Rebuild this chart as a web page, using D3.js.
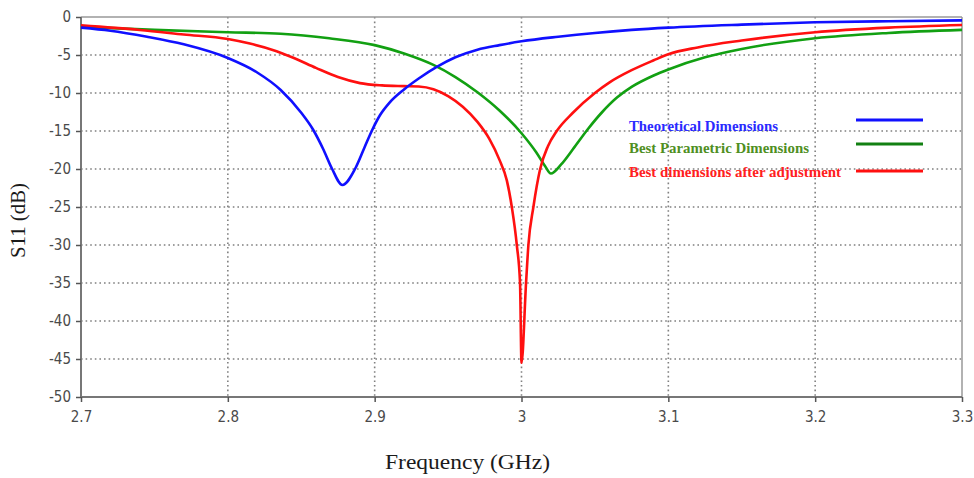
<!DOCTYPE html>
<html>
<head>
<meta charset="utf-8">
<script src="https://cdn.jsdelivr.net/npm/d3@7"></script>
<style>
  html, body { margin: 0; padding: 0; background: #fff; }
  svg { display: block; }
</style>
</head>
<body>
<svg id="chart" width="974" height="478"></svg>
<script>
// ---- Data ----
const xTicks = [2.7, 2.8, 2.9, 3.0, 3.1, 3.2, 3.3];
const xTickLabels = ["2.7", "2.8", "2.9", "3", "3.1", "3.2", "3.3"];
const yTicks = [0, -5, -10, -15, -20, -25, -30, -35, -40, -45, -50];

const seriesNames = ["Theoretical Dimensions", "Best Parametric Dimensions", "Best dimensions after adjustment"];

const theoFreq = [2.70, 2.72, 2.745, 2.77, 2.80, 2.82, 2.836, 2.85, 2.858, 2.865, 2.8708, 2.878, 2.8866, 2.893, 2.898, 2.9037, 2.91, 2.9196, 2.93, 2.942, 2.955, 2.97, 2.985, 3.00, 3.025, 3.05, 3.075, 3.10, 3.15, 3.20, 3.25, 3.30];
const theoS11 = [-1.4, -1.8, -2.6, -3.6, -5.4, -7.3, -9.6, -12.6, -14.8, -17.4, -19.9, -22.1, -20.0, -17.2, -15.0, -12.9, -11.3, -9.6, -8.1, -6.6, -5.3, -4.3, -3.7, -3.2, -2.6, -2.1, -1.7, -1.4, -1.0, -0.7, -0.55, -0.45];

const paramFreq = [2.70, 2.75, 2.80, 2.836, 2.869, 2.90, 2.92, 2.94, 2.955, 2.97, 2.985, 3.00, 3.01, 3.016, 3.020, 3.027, 3.035, 3.045, 3.055, 3.065, 3.075, 3.09, 3.10, 3.125, 3.15, 3.20, 3.25, 3.30];
const paramS11 = [-1.3, -1.7, -2.0, -2.2, -2.8, -3.7, -4.8, -6.3, -7.9, -9.9, -12.3, -15.3, -17.8, -19.6, -20.6, -19.4, -17.4, -14.8, -12.5, -10.6, -9.2, -7.7, -6.9, -5.3, -4.2, -2.8, -2.1, -1.7];

const adjFreq = [2.70, 2.74, 2.77, 2.80, 2.815, 2.83, 2.845, 2.86, 2.875, 2.89, 2.905, 2.92, 2.93, 2.94, 2.95, 2.96, 2.97, 2.978, 2.985, 2.99, 2.9934, 2.9968, 2.999, 3.000, 3.0031, 3.0047, 3.0081, 3.0127, 3.018, 3.024, 3.035, 3.05, 3.06, 3.075, 3.09, 3.10, 3.12, 3.15, 3.20, 3.25, 3.30];
const adjS11 = [-1.1, -1.7, -2.3, -2.9, -3.5, -4.3, -5.4, -6.7, -7.9, -8.7, -9.0, -9.1, -9.15, -9.5, -10.4, -11.8, -13.8, -16.0, -18.8, -21.5, -25.0, -30.0, -35.0, -45.5, -35.0, -30.0, -25.0, -20.0, -17.0, -15.0, -12.6, -10.0, -8.6, -7.0, -5.7, -4.9, -4.0, -3.1, -2.0, -1.4, -1.05];

// ---- Layout ----
const svg = d3.select("#chart");
const pL = 81, pR = 962, pT = 17, pB = 397;

const x = d3.scaleLinear().domain([2.7, 3.3]).range([pL, pR]);
const y = d3.scaleLinear().domain([0, -50]).range([pT, pB]);

// Gridlines
const grid = svg.append("g");
grid.selectAll("line.v").data(xTicks.slice(1, -1)).enter().append("line")
  .attr("class", "v")
  .attr("x1", d => x(d)).attr("x2", d => x(d))
  .attr("y1", pT).attr("y2", pB)
  .attr("stroke", "#808080").attr("stroke-width", 1.6).attr("stroke-dasharray", "1.6,3");
grid.selectAll("line.h").data(yTicks.slice(1, -1)).enter().append("line")
  .attr("class", "h")
  .attr("x1", pL).attr("x2", pR)
  .attr("y1", d => y(d)).attr("y2", d => y(d))
  .attr("stroke", "#808080").attr("stroke-width", 1.6).attr("stroke-dasharray", "1.6,3");

// Frame (top & right)
svg.append("line").attr("x1", pL).attr("x2", pR).attr("y1", pT).attr("y2", pT)
  .attr("stroke", "#999").attr("stroke-width", 1.5);
svg.append("line").attr("x1", pR).attr("x2", pR).attr("y1", pT).attr("y2", pB)
  .attr("stroke", "#999").attr("stroke-width", 1.5);

// Axes
const tickFont = "'Liberation Sans Narrow', 'DejaVu Sans Condensed', 'Roboto Condensed', Arial, sans-serif";
const yAxis = d3.axisLeft(y).tickValues(yTicks).tickSize(5).tickPadding(5).tickFormat(d => String(d));
const yg = svg.append("g").attr("transform", `translate(${pL},0)`).call(yAxis);
const xAxis = d3.axisBottom(x).tickValues(xTicks).tickSize(5).tickPadding(9)
  .tickFormat((d, i) => xTickLabels[i]);
const xg = svg.append("g").attr("transform", `translate(0,${pB})`).call(xAxis);

[yg, xg].forEach(g => {
  g.select(".domain").attr("stroke", "#777").attr("stroke-width", 2);
  g.selectAll(".tick line").attr("stroke", "#555").attr("stroke-width", 1.5);
  g.selectAll(".tick text").attr("fill", "#4a4a4a")
    .style("font-family", tickFont).style("font-size", "15px");
});
yg.select(".domain").attr("d", `M0,${pT}V${pB}`);
xg.select(".domain").attr("d", `M${pL},0H${pR}`);

// Lines
const line = d3.line().x(d => x(d[0])).y(d => y(d[1])).curve(d3.curveMonotoneX);
const series = [
  { f: theoFreq, v: theoS11, color: "#1010ff" },
  { f: paramFreq, v: paramS11, color: "#12a012" },
  { f: adjFreq, v: adjS11, color: "#ff1010" }
];
[series[1], series[2], series[0]].forEach(s => {
  svg.append("path")
    .datum(s.f.map((f, i) => [f, s.v[i]]))
    .attr("fill", "none").attr("stroke", s.color)
    .attr("stroke-width", 2.6).attr("stroke-linejoin", "round")
    .attr("d", line);
});

// Legend
const legendTextColors = ["#2a2aff", "#4f8f1f", "#ff2020"];
const legendLineColors = ["#1010ff", "#128012", "#ff1010"];
const legendTextY = [131, 153, 177];
const legendLineY = [120, 144, 171];
const legendTextLen = [149, 180, 212];
const leg = svg.append("g");
seriesNames.forEach((name, i) => {
  leg.append("text")
    .attr("x", 629).attr("y", legendTextY[i])
    .attr("fill", legendTextColors[i])
    .attr("textLength", legendTextLen[i]).attr("lengthAdjust", "spacingAndGlyphs")
    .style("font-family", "'Liberation Serif', 'Times New Roman', serif")
    .style("font-weight", "bold").style("font-size", "14px")
    .text(name);
  leg.append("line")
    .attr("x1", 856).attr("x2", 923)
    .attr("y1", legendLineY[i]).attr("y2", legendLineY[i])
    .attr("stroke", legendLineColors[i]).attr("stroke-width", 3.2);
});

// Axis titles
svg.append("text")
  .attr("x", 385).attr("y", 469)
  .attr("textLength", 165).attr("lengthAdjust", "spacingAndGlyphs")
  .attr("fill", "#1a1a1a")
  .style("font-family", "'Liberation Serif', 'Times New Roman', serif")
  .style("font-size", "20px")
  .text("Frequency (GHz)");
svg.append("text")
  .attr("transform", "translate(25,258) rotate(-90)")
  .attr("x", 0).attr("y", 0)
  .attr("textLength", 75).attr("lengthAdjust", "spacingAndGlyphs")
  .attr("fill", "#1a1a1a")
  .style("font-family", "'Liberation Serif', 'Times New Roman', serif")
  .style("font-size", "20px")
  .text("S11 (dB)");
</script>
</body>
</html>
